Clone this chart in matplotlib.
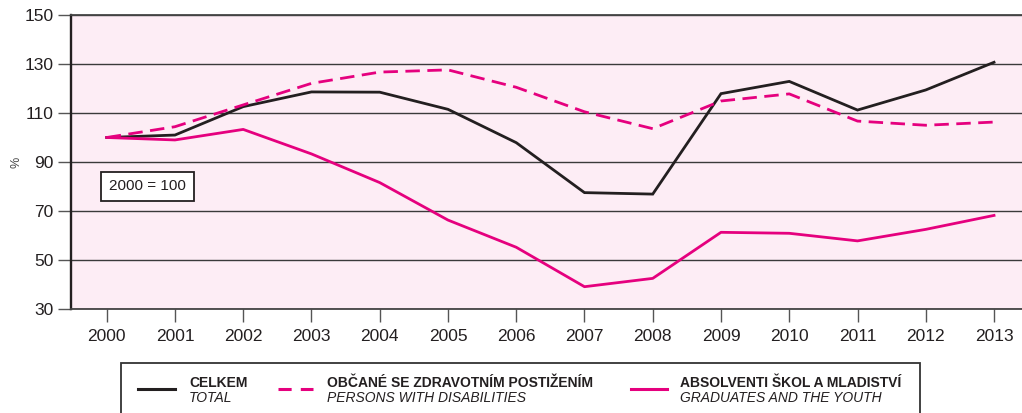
import matplotlib
matplotlib.use('Agg')
import matplotlib.pyplot as plt
from matplotlib.lines import Line2D
from matplotlib.patches import Rectangle

# data (2000 = 100)
years = list(range(2000, 2014))
celkem = [100, 101, 112.6, 118.6, 118.5, 111.5, 97.9, 77.5, 76.9, 117.9, 122.9, 111.2, 119.4, 130.7]
postizeni = [100, 104.4, 113.3, 122.1, 126.7, 127.6, 120.5, 110.5, 103.6, 114.9, 117.8, 106.7, 105.0, 106.3]
absolventi = [100, 99.0, 103.3, 93.3, 81.6, 66.3, 55.2, 39.1, 42.5, 61.3, 60.9, 57.8, 62.5, 68.2]
yticks = [30, 50, 70, 90, 110, 130, 150]

names_cz = ['CELKEM', 'OBČANÉ SE ZDRAVOTNÍM POSTIŽENÍM', 'ABSOLVENTI ŠKOL A MLADISTVÍ']
names_en = ['TOTAL', 'PERSONS WITH DISABILITIES', 'GRADUATES AND THE YOUTH']

BLACK = '#231f20'
MAGENTA = '#e5007e'
BG = '#fdedf5'
GRID = '#3a3a3a'

plt.rcParams['font.family'] = ['Liberation Sans', 'DejaVu Sans']

fig = plt.figure(figsize=(10.22, 4.13), dpi=100)
ax = fig.add_axes([71 / 1022, 104 / 413, 951 / 1022, 294 / 413])
ax.set_facecolor(BG)

ax.plot(years, celkem, color=BLACK, lw=2.0, solid_joinstyle='miter', zorder=3)
ax.plot(years, postizeni, color=MAGENTA, lw=2.0, dashes=(5.2, 2.7), zorder=3)
ax.plot(years, absolventi, color=MAGENTA, lw=2.0, zorder=3)

ax.set_xlim(1999.477, 2013.41)
ax.set_ylim(30, 150)
ax.set_xticks(years)
ax.set_yticks(yticks)
ax.yaxis.grid(True, color=GRID, lw=1.0)
ax.set_axisbelow(True)

ax.tick_params(axis='both', direction='out', length=9.5, width=1.0, color='#555555',
               labelsize=12.5, labelcolor='#231f20')
ax.tick_params(axis='x', pad=5)
ax.tick_params(axis='y', pad=3)

ax.spines['right'].set_visible(False)
ax.spines['left'].set_color(BLACK)
ax.spines['left'].set_linewidth(1.7)
ax.spines['bottom'].set_color('#444444')
ax.spines['bottom'].set_linewidth(1.3)
ax.spines['top'].set_color('#444444')
ax.spines['top'].set_linewidth(1.3)

ax.set_ylabel('%', fontsize=9, color='#444444')
ax.yaxis.set_label_coords(-48 / 951, 0.5)

ax.text(38 / 951, 0.4167, '2000 = 100', transform=ax.transAxes, fontsize=11, color=BLACK,
        ha='left', va='center',
        bbox=dict(boxstyle='square,pad=0.5', facecolor='white', edgecolor=BLACK, lw=1.3))

# legend box at the bottom
W, H = 1022, 413
fig.patches.append(Rectangle((121 / W, -0.05), (920 - 121) / W, (413 - 363) / H + 0.05,
                             transform=fig.transFigure, fill=False, edgecolor='#333333', lw=1.3))
handle_x = [(138, 175), (278, 313), (631, 667)]
text_x = [189, 327, 680]
styles = [dict(color=BLACK), dict(color=MAGENTA, dashes=(4.3, 3.0)), dict(color=MAGENTA)]
for (x0, x1), tx, st, cz, en in zip(handle_x, text_x, styles, names_cz, names_en):
    fig.lines.append(Line2D([x0 / W, x1 / W], [1 - 389 / H, 1 - 389 / H], transform=fig.transFigure,
                            lw=2.2, **st))
    fig.text(tx / W, 1 - 383 / H, cz, fontsize=10, fontweight='bold', color=BLACK,
             va='center', ha='left')
    fig.text(tx / W, 1 - 398 / H, en, fontsize=10, fontstyle='italic', color=BLACK,
             va='center', ha='left')

fig.savefig('out.png', dpi=100, facecolor='white')
